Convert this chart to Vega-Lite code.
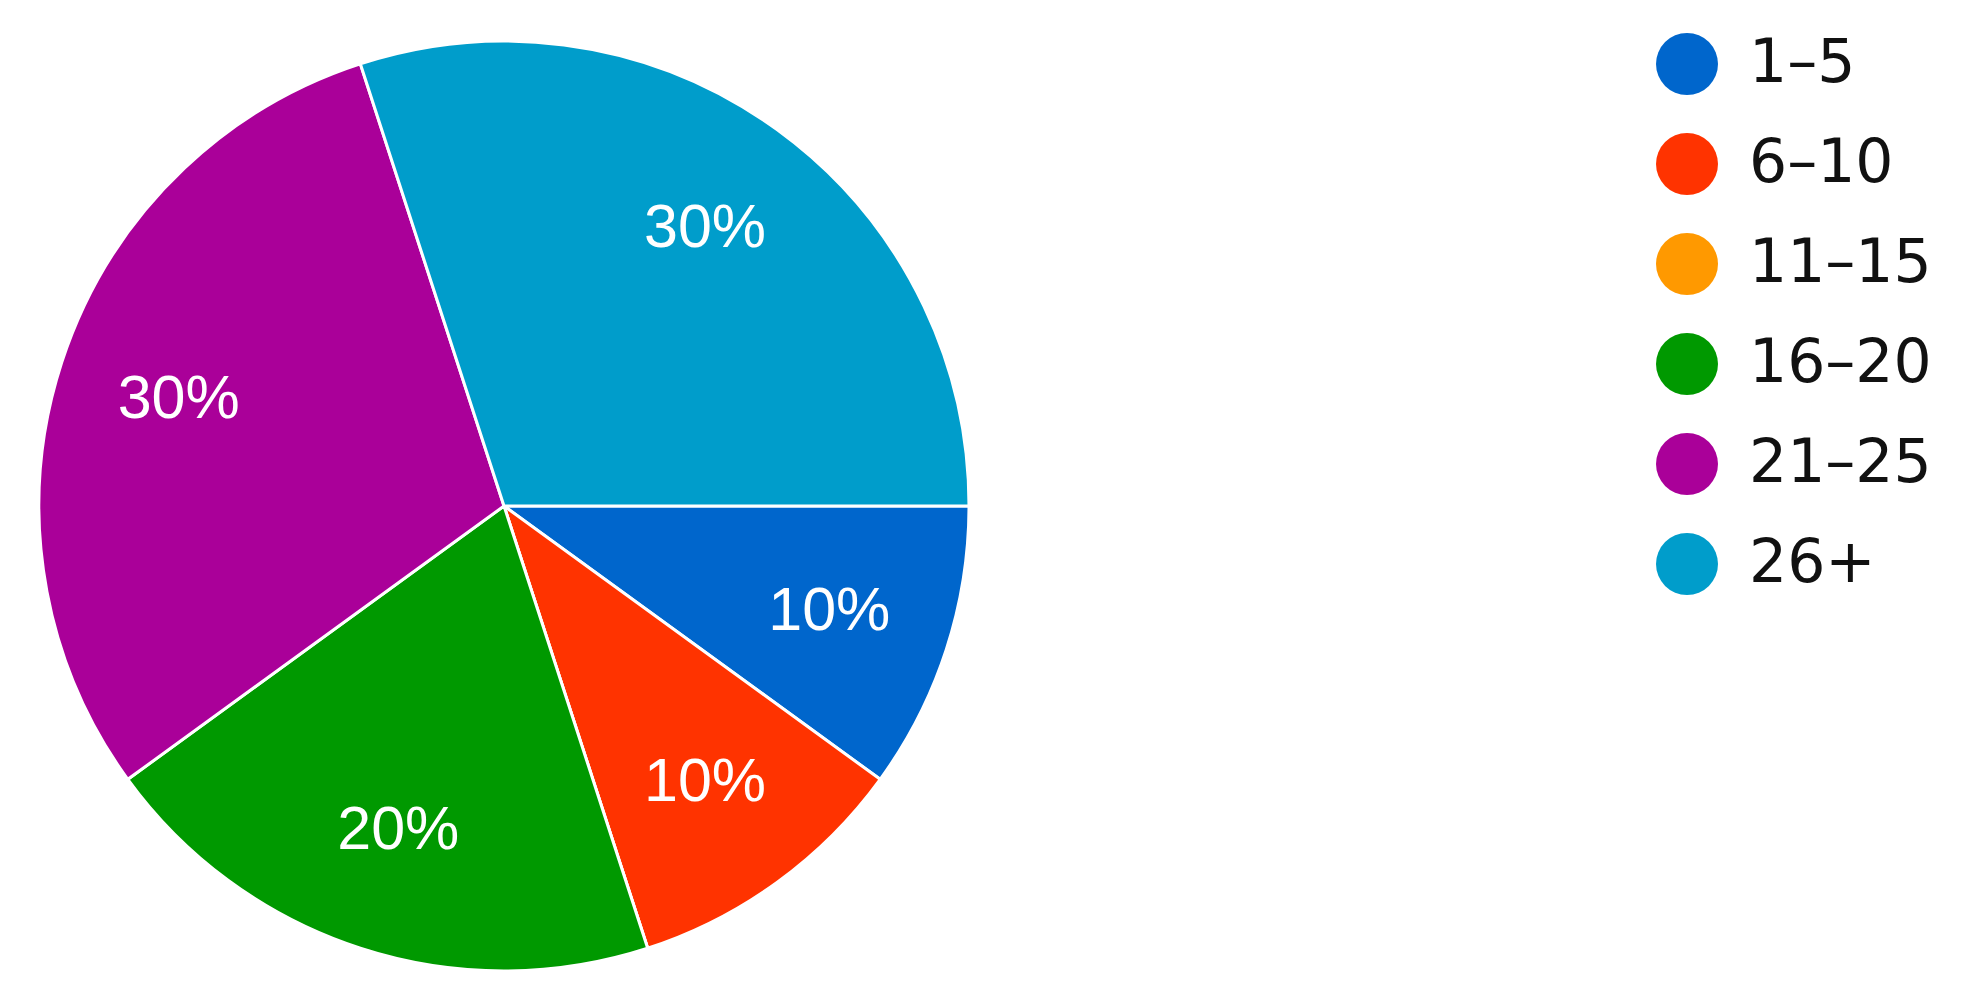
{
  "$schema": "https://vega.github.io/schema/vega-lite/v6.json",
  "width": 1008,
  "height": 1012,
  "padding": 0,
  "background": "white",
  "config": {"view": {"stroke": null}},
  "data": {
    "values": [
      {"idx": 1, "group": "1–5", "value": 10, "label": "10%"},
      {"idx": 2, "group": "6–10", "value": 10, "label": "10%"},
      {"idx": 3, "group": "11–15", "value": 0, "label": "0%"},
      {"idx": 4, "group": "16–20", "value": 20, "label": "20%"},
      {"idx": 5, "group": "21–25", "value": 30, "label": "30%"},
      {"idx": 6, "group": "26+", "value": 30, "label": "30%"}
    ]
  },
  "encoding": {
    "theta": {"field": "value", "type": "quantitative", "stack": true, "scale": {"range": [1.5708, 7.854]}},
    "order": {"field": "idx", "type": "quantitative"}
  },
  "layer": [
    {
      "mark": {"type": "arc", "outerRadius": 465, "stroke": "white", "strokeWidth": 3},
      "encoding": {
        "color": {
          "field": "group",
          "type": "nominal",
          "scale": {
            "domain": ["1–5", "6–10", "11–15", "16–20", "21–25", "26+"],
            "range": ["#0066CC", "#FF3300", "#FF9900", "#009900", "#AA0099", "#009DCB"]
          },
          "legend": {
            "title": null,
            "orient": "none",
            "legendX": 1656,
            "legendY": 33,
            "padding": 0,
            "symbolType": "circle",
            "symbolSize": 3844,
            "symbolStrokeWidth": 0,
            "symbolOpacity": 1,
            "labelFont": "DejaVu Sans",
            "labelFontSize": 60,
            "labelColor": "#111111",
            "labelOffset": 31,
            "labelLimit": 400,
            "rowPadding": 38
          }
        }
      }
    },
    {
      "transform": [{"filter": "datum.value > 0"}],
      "mark": {"type": "text", "radius": 342, "font": "Liberation Sans", "fontSize": 61, "fill": "white", "align": "center", "baseline": "middle"},
      "encoding": {
        "text": {"field": "label", "type": "nominal"}
      }
    }
  ]
}
